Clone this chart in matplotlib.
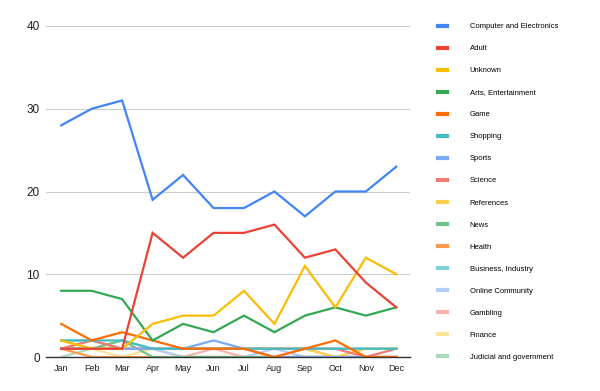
import matplotlib
matplotlib.use("Agg")
import matplotlib.pyplot as plt

plt.rcParams['font.family'] = ['Liberation Sans', 'DejaVu Sans']

months = ["Jan", "Feb", "Mar", "Apr", "May", "Jun", "Jul", "Aug", "Sep", "Oct", "Nov", "Dec"]

computer = [28, 30, 31, 19, 22, 18, 18, 20, 17, 20, 20, 23]
adult = [1, 1, 1, 15, 12, 15, 15, 16, 12, 13, 9, 6]
unknown = [2, 1, 1, 4, 5, 5, 8, 4, 11, 6, 12, 10]
arts = [8, 8, 7, 2, 4, 3, 5, 3, 5, 6, 5, 6]
game = [4, 2, 3, 2, 1, 1, 1, 0, 1, 2, 0, 0]
shopping = [2, 2, 2, 1, 1, 1, 1, 1, 1, 1, 1, 1]
sports = [1, 1, 1, 1, 1, 2, 1, 0, 0, 0, 0, 0]
science = [1, 2, 1, 1, 1, 1, 1, 1, 1, 1, 0, 1]
references = [2, 1, 1, 1, 1, 1, 1, 1, 1, 0, 1, 1]
news = [1, 1, 2, 0, 0, 0, 0, 0, 0, 0, 0, 0]
health = [1, 0, 0, 0, 0, 0, 0, 0, 0, 0, 0, 0]
business = [2, 2, 1, 1, 1, 1, 1, 1, 1, 1, 1, 1]
online = [1, 1, 1, 1, 0, 0, 0, 1, 0, 0, 0, 0]
gambling = [1, 2, 1, 1, 0, 1, 0, 0, 1, 0, 0, 0]
finance = [2, 1, 0, 1, 0, 0, 0, 0, 0, 0, 0, 0]
judicial = [0, 1, 2, 1, 1, 1, 1, 1, 1, 1, 1, 1]

series = [
    ("Computer and Electronics", computer, "#4285F4"),
    ("Adult", adult, "#EA4335"),
    ("Unknown", unknown, "#FBBC04"),
    ("Arts, Entertainment", arts, "#34A853"),
    ("Game", game, "#FF6D01"),
    ("Shopping", shopping, "#46BDC6"),
    ("Sports", sports, "#7BAAF7"),
    ("Science", science, "#F07B72"),
    ("References", references, "#FCD04F"),
    ("News", news, "#71C287"),
    ("Health", health, "#FF994D"),
    ("Business, Industry", business, "#7ED1D7"),
    ("Online Community", online, "#B3CEFB"),
    ("Gambling", gambling, "#F7B4AE"),
    ("Finance", finance, "#FDE49B"),
    ("Judicial and government", judicial, "#AEDCBA"),
]

fig = plt.figure(figsize=(6, 3.91), dpi=100)
ax = fig.add_axes([46/600, 34/391, 364/600, 331/391])

x = list(range(len(months)))
# draw in reverse so the first series ends up on top
for i, (name, vals, col) in reversed(list(enumerate(series))):
    ax.plot(x, vals, color=col, lw=1.6, label=name, zorder=3 + (len(series) - i) * 0.01,
            solid_joinstyle="miter")

ax.set_ylim(0, 40)
ax.set_xlim(-0.5, 11.45)
ax.set_yticks([0, 10, 20, 30, 40])
ax.set_xticks(x)
ax.set_xticklabels(months)
ax.tick_params(axis="both", length=0, labelsize=6.5, colors="#222222")
ax.tick_params(axis="y", labelsize=8.5, pad=4.5)
ax.tick_params(axis="x", pad=5)
ax.grid(axis="y", color="#cccccc", lw=0.8)
ax.set_axisbelow(True)
for s in ["top", "right", "left"]:
    ax.spines[s].set_visible(False)
ax.spines["bottom"].set_color("#333333")
ax.spines["bottom"].set_linewidth(1.0)
ax.spines["bottom"].set_zorder(5)

handles, labels = ax.get_legend_handles_labels()
handles = handles[::-1]
labels = labels[::-1]
leg = fig.legend(handles, labels, loc="upper left", bbox_to_anchor=(435/600, 1 - 20/391),
                 frameon=False, fontsize=5.5, handlelength=1.2, handletextpad=2.95,
                 labelspacing=1.92, borderaxespad=0)
for h in leg.get_lines():
    h.set_linewidth(3)

fig.savefig("out.png", dpi=100)
